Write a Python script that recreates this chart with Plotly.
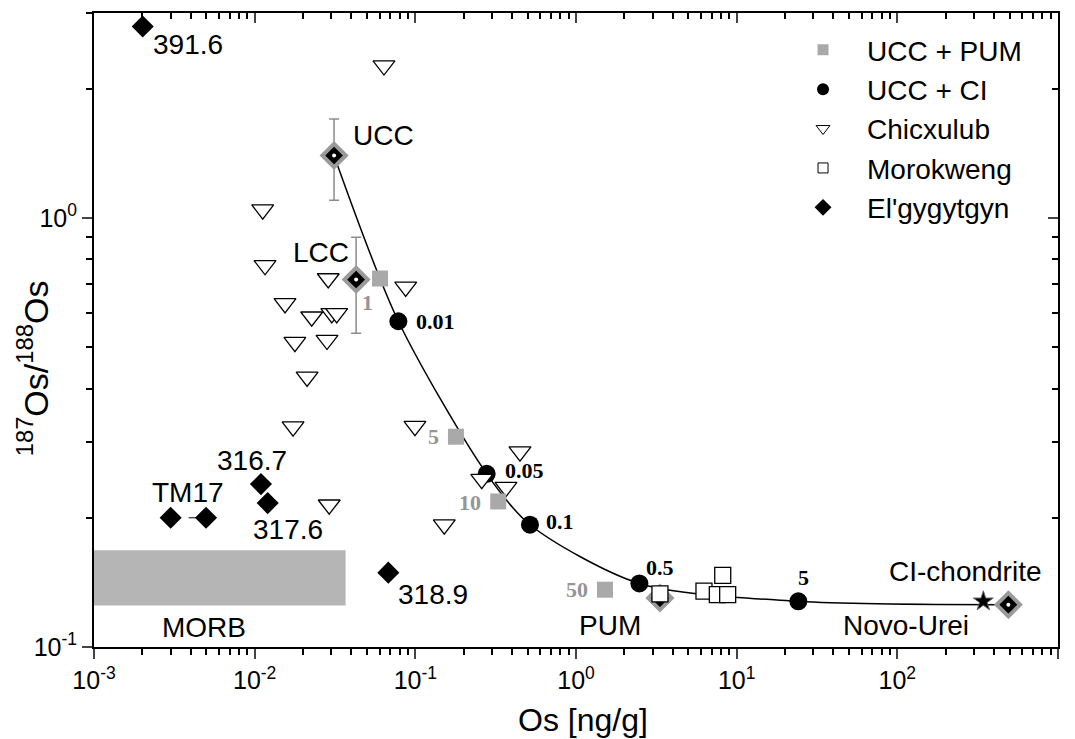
import math
import plotly.graph_objects as go

# ---------------- data ----------------
ucc_pum_os = [0.0603, 0.179, 0.328, 1.515]
ucc_pum_ratio = [0.722, 0.309, 0.2183, 0.136]
ucc_pum_labels = ["1", "5", "10", "50"]

ucc_ci_os = [0.0784, 0.278, 0.517, 2.48, 24.2]
ucc_ci_ratio = [0.574, 0.2532, 0.1927, 0.1406, 0.1278]
ucc_ci_labels = ["0.01", "0.05", "0.1", "0.5", "5"]

chicxulub_os = [0.0638, 0.01122, 0.0116, 0.01545, 0.02265, 0.0287, 0.0302, 0.0324,
                0.0871, 0.0178, 0.0282, 0.0212, 0.01734, 0.0995, 0.0291, 0.1514,
                0.448, 0.259, 0.3666]
chicxulub_ratio = [2.263, 1.045, 0.775, 0.632, 0.588, 0.722, 0.599, 0.599,
                   0.690, 0.513, 0.519, 0.426, 0.326, 0.327, 0.2145, 0.1927,
                   0.2853, 0.246, 0.2358]

morokweng_os = [3.33, 6.26, 8.19, 7.58, 8.79]
morokweng_ratio = [0.133, 0.1349, 0.1469, 0.1324, 0.1324]

elgy_os = [0.00201, 0.0030, 0.00498, 0.01094, 0.01205, 0.0679]
elgy_ratio = [2.79, 0.200, 0.200, 0.2396, 0.2164, 0.149]
elgy_labels = ["391.6", "TM17", "", "316.7", "317.6", "318.9"]

ref_names = ["UCC", "LCC", "PUM", "CI-chondrite"]
ref_os = [0.0312, 0.0428, 3.33, 491.0]
ref_ratio = [1.397, 0.718, 0.130, 0.1255]
ref_err_plus = [0.303, 0.183, 0.0, 0.0]
ref_err_minus = [0.299, 0.180, 0.0, 0.0]

novo_os = [343.0]
novo_ratio = [0.1278]

morb_os = [0.001, 0.0368]
morb_ratio = [0.125, 0.168]

x_ticks = [1e-3, 1e-2, 1e-1, 1e0, 1e1, 1e2, 1e3]
x_ticklabels = ["10<sup>-3</sup>", "10<sup>-2</sup>", "10<sup>-1</sup>", "10<sup>0</sup>",
                "10<sup>1</sup>", "10<sup>2</sup>", "10<sup>3</sup>"]
y_ticks = [0.1, 1.0]
y_ticklabels = ["10<sup>-1</sup>", "10<sup>0</sup>"]

# ---------------- styling ----------------
FONT = "Liberation Sans, Arial, sans-serif"
SERIF = "Liberation Serif, Times New Roman, serif"
GRAY = "#a9a9a9"
LABEL_SIZE = 28

# minor tick positions (2..9 within each decade)
x_minor = [m * 10 ** e for e in range(-3, 3) for m in range(2, 10)]
y_minor = [m * 10 ** e for e in range(-1, 1) for m in range(2, 10) if m * 10 ** e <= 3.0]

fig = go.Figure()

# MORB field
fig.add_shape(type="rect", xref="x", yref="y",
              x0=morb_os[0], x1=morb_os[1], y0=morb_ratio[0], y1=morb_ratio[1],
              fillcolor="#b5b5b5", line=dict(width=0), layer="below")

# error bars for UCC and LCC
fig.add_trace(go.Scatter(
    x=ref_os[:2], y=ref_ratio[:2], mode="markers",
    marker=dict(size=1, color="rgba(0,0,0,0)"),
    error_y=dict(type="data", symmetric=False, array=ref_err_plus[:2],
                 arrayminus=ref_err_minus[:2], color="#8c8c8c", thickness=1.5, width=5),
    showlegend=False, hoverinfo="skip"))

# mixing curve UCC -> CI through the UCC+CI points
curve_x = [ref_os[0]] + ucc_ci_os + [ref_os[3]]
curve_y = [ref_ratio[0]] + ucc_ci_ratio + [ref_ratio[3]]
fig.add_trace(go.Scatter(x=curve_x, y=curve_y, mode="lines",
                         line=dict(color="black", width=1.5, shape="spline", smoothing=0.8),
                         showlegend=False, hoverinfo="skip"))

# UCC + CI
fig.add_trace(go.Scatter(x=ucc_ci_os, y=ucc_ci_ratio, mode="markers",
                         marker=dict(symbol="circle", size=18, color="black"),
                         showlegend=False))
# Chicxulub
fig.add_trace(go.Scatter(x=chicxulub_os, y=chicxulub_ratio, mode="markers",
                         marker=dict(symbol="triangle-down", size=19, color="white",
                                     line=dict(color="black", width=1.3)),
                         showlegend=False))
# UCC + PUM
fig.add_trace(go.Scatter(x=ucc_pum_os, y=ucc_pum_ratio, mode="markers",
                         marker=dict(symbol="square", size=16, color=GRAY),
                         showlegend=False))
# reference reservoirs (gray-rimmed diamonds)
fig.add_trace(go.Scatter(x=ref_os, y=ref_ratio, mode="markers",
                         marker=dict(symbol="diamond", size=18, color="black",
                                     line=dict(color="#9a9a9a", width=4)),
                         showlegend=False))
fig.add_trace(go.Scatter(x=ref_os, y=ref_ratio, mode="markers",
                         marker=dict(symbol="circle", size=4, color="white"),
                         showlegend=False))
# Novo-Urei
fig.add_trace(go.Scatter(x=novo_os, y=novo_ratio, mode="markers",
                         marker=dict(symbol="star", size=15, color="black",
                                     line=dict(color="#666", width=1)),
                         showlegend=False))
# Morokweng
fig.add_trace(go.Scatter(x=morokweng_os, y=morokweng_ratio, mode="markers",
                         marker=dict(symbol="square", size=16, color="white",
                                     line=dict(color="black", width=1.3)),
                         showlegend=False))
# El'gygytgyn
fig.add_trace(go.Scatter(x=elgy_os[1:3], y=elgy_ratio[1:3], mode="lines",
                         line=dict(color="black", width=1, dash="dash"),
                         showlegend=False, hoverinfo="skip"))
fig.add_trace(go.Scatter(x=elgy_os, y=elgy_ratio, mode="markers",
                         marker=dict(symbol="diamond", size=17, color="black"),
                         showlegend=False))

# legend-only entries (small symbols like the reference legend)
legend_specs = [
    ("UCC + PUM", dict(symbol="square", size=11, color=GRAY)),
    ("UCC + CI", dict(symbol="circle", size=12, color="black")),
    ("Chicxulub", dict(symbol="triangle-down", size=12, color="white",
                       line=dict(color="black", width=1))),
    ("Morokweng", dict(symbol="square", size=10, color="white",
                       line=dict(color="black", width=1))),
    ("El'gygytgyn", dict(symbol="diamond", size=13, color="black")),
]
for name, mk in legend_specs:
    fig.add_trace(go.Scatter(x=[None], y=[None], mode="markers", name=name,
                             marker=mk, showlegend=True))

# overlay axes for inward mirror ticks on top/right
fig.add_trace(go.Scatter(x=[None], y=[None], xaxis="x2", yaxis="y2", showlegend=False))

# ---------------- annotations ----------------
ann = []
def lab(x, y, text, dx, dy, size=LABEL_SIZE, color="black", font=FONT):
    ann.append(dict(x=math.log10(x), y=math.log10(y), xref="x", yref="y", text=text,
                    showarrow=False, xshift=dx, yshift=dy,
                    font=dict(family=font, size=size, color=color),
                    xanchor="center", yanchor="middle"))

elgy_off = [(45, -18), (17, 25), None, (-9, 24), (20, -26), (45, -22)]
for xv, yv, t, off in zip(elgy_os, elgy_ratio, elgy_labels, elgy_off):
    if t and off:
        lab(xv, yv, t, off[0], off[1])

ref_off = [(49, 20), (-35, 27), (-50, -27), (-43, 33)]
for xv, yv, t, off in zip(ref_os, ref_ratio, ref_names, ref_off):
    lab(xv, yv, t, off[0], off[1])

lab(novo_os[0], novo_ratio[0], "Novo-Urei", -77, -24)

ci_off = [(37, 0), (38, 3), (30, 3), (21, 16), (5, 24)]
for xv, yv, t, off in zip(ucc_ci_os, ucc_ci_ratio, ucc_ci_labels, ci_off):
    lab(xv, yv, "<b>" + t + "</b>", off[0], off[1], size=22, font=SERIF)

pum_off = [(-13, -24), (-22, 0), (-28, -1), (-28, 0)]
for xv, yv, t, off in zip(ucc_pum_os, ucc_pum_ratio, ucc_pum_labels, pum_off):
    lab(xv, yv, "<b>" + t + "</b>", off[0], off[1], size=22, color="#959595", font=SERIF)

# MORB label below the field
lab(math.sqrt(morb_os[0] * morb_os[1]), morb_ratio[0], "MORB", -16, -22)

# axis titles
ann.append(dict(x=0.507, y=-0.115, xref="paper", yref="paper", text="Os [ng/g]",
                showarrow=False, xanchor="center", yanchor="middle",
                font=dict(family=FONT, size=32)))
ann.append(dict(x=-0.064, y=0.44, xref="paper", yref="paper",
                text="<sup>187</sup>Os/<sup>188</sup>Os", textangle=-90,
                showarrow=False, xanchor="center", yanchor="middle",
                font=dict(family=FONT, size=34)))

# ---------------- layout ----------------
# the page body adds an 8 px offset, so the figure is 8 px smaller on each axis
xr = [math.log10(1e-3), math.log10(1e3)]
yr = [math.log10(0.1), math.log10(3.0)]
axis_common = dict(showline=True, linecolor="black", linewidth=2, showgrid=False,
                   zeroline=False, automargin=False)
fig.update_layout(
    width=1067, height=731,
    margin=dict(l=86, r=17, t=5, b=92, autoexpand=False),
    paper_bgcolor="white", plot_bgcolor="white",
    font=dict(family=FONT, color="black"),
    annotations=ann,
    xaxis=dict(type="log", range=xr, tickmode="array", tickvals=x_ticks,
               ticktext=x_ticklabels, ticks="outside", ticklen=10, tickwidth=2,
               tickfont=dict(size=25, family=FONT),
               minor=dict(ticks="outside", ticklen=6, tickwidth=1.5, tickmode="array",
                          tickvals=x_minor, tickcolor="black", showgrid=False),
               **axis_common),
    yaxis=dict(type="log", range=yr, tickmode="array", tickvals=y_ticks,
               ticktext=y_ticklabels, ticks="outside", ticklen=10, tickwidth=2,
               tickfont=dict(size=25, family=FONT),
               minor=dict(ticks="outside", ticklen=6, tickwidth=1.5, tickmode="array",
                          tickvals=y_minor, tickcolor="black", showgrid=False),
               **axis_common),
    xaxis2=dict(type="log", range=xr, overlaying="x", side="top", tickmode="array",
                tickvals=x_ticks, ticks="inside", ticklen=10, tickwidth=2,
                showticklabels=False,
                minor=dict(ticks="inside", ticklen=6, tickwidth=1.5, tickmode="array",
                           tickvals=x_minor, tickcolor="black", showgrid=False),
                **axis_common),
    yaxis2=dict(type="log", range=yr, overlaying="y", side="right", tickmode="array",
                tickvals=y_ticks, ticks="inside", ticklen=10, tickwidth=2,
                showticklabels=False,
                minor=dict(ticks="inside", ticklen=6, tickwidth=1.5, tickmode="array",
                           tickvals=y_minor, tickcolor="black", showgrid=False),
                **axis_common),
    legend=dict(x=0.7106, y=0.981, xanchor="left", yanchor="top",
                bgcolor="rgba(0,0,0,0)", borderwidth=0,
                font=dict(size=28, family=FONT), itemwidth=78, tracegroupgap=0),
    showlegend=True,
)

fig.write_html("out.html")
